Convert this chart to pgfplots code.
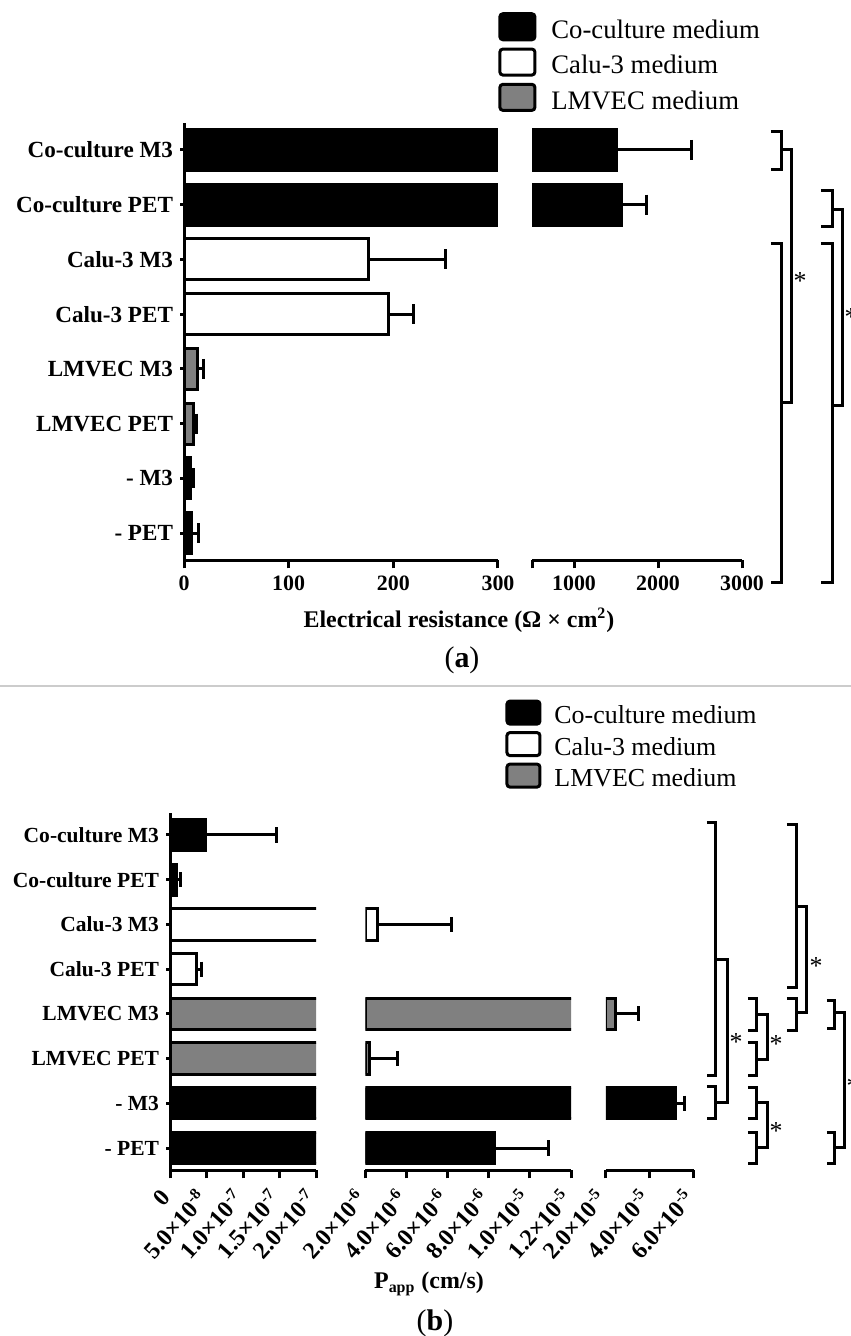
\documentclass[border=0pt]{standalone}
\usepackage{fontspec}
\setmainfont{Liberation Serif}
\usepackage{pgfplots}
\usepackage{pgfplotstable}
\pgfplotsset{compat=1.18}

% (a) electrical resistance, Ohm x cm^2 (y: 7 = Co-culture M3 ... 0 = - PET)
\pgfplotstableread{
y x err
7 1500 900
6 1570 290
}\teerCo
\pgfplotstableread{
y x err
5 176 74
4 195 24
}\teerCalu
\pgfplotstableread{
y x err
3 12.7 6
2 9 2.5
}\teerLm
\pgfplotstableread{
y x err
1 6 3
0 7.4 6
}\teerNone

% (b) Papp, cm/s
\pgfplotstableread{
y x err
7 4.8e-8 9.8e-8
6 0.91e-8 0.46e-8
}\papCo
\pgfplotstableread{
y x err
5 2.57e-6 3.63e-6
4 3.6e-8 0.7e-8
}\papCalu
\pgfplotstableread{
y x err
3 2.42e-5 1.06e-5
2 2.22e-6 1.33e-6
}\papLm
\pgfplotstableread{
y x err
1 5.18e-5 0.41e-5
0 8.29e-6 2.6e-6
}\papNone

\tikzset{
  co/.style={draw=black, fill=black, line width=1.5bp},
  calu/.style={draw=black, fill=white, line width=1.5bp},
  lm/.style={draw=black, fill=black!50, line width=1.5bp},
}
\pgfplotsset{
  brk/.style={
    scale only axis, anchor=south west,
    xbar, bar shift=0pt,
    ymin=-0.5, ymax=7.5,
    axis x line=bottom,
    axis line style={-, line width=1.5bp},
    every tick/.style={black, line width=1.5bp},
    major tick length=4bp, tick align=outside,
    scaled x ticks=false,
    clip marker paths=true,
    error bars/x dir=plus, error bars/x explicit,
    error bars/error mark=|,
    error bars/error bar style={line width=1.5bp, black},
    error bars/error mark options={line width=1.5bp, mark size=5bp, black},
  },
  brkb/.style={
    brk, bar width=0.7,
    error bars/error mark options={line width=1.5bp, mark size=3.8bp, black},
    xticklabel style={font=\bfseries\fontsize{12}{13}\selectfont, yshift=-5bp, rotate=48, anchor=east},
  },
  firstseg/.style={
    axis y line=left, axis line style={-, line width=1.5bp},
    ytick={0,...,7},
    yticklabels={- PET, - M3, LMVEC PET, LMVEC M3, Calu-3 PET, Calu-3 M3, Co-culture PET, Co-culture M3},
    legend cell align=left,
  },
}
\newcommand{\sqbr}[4]{\draw (#1,#3) -- (#2,#3) -- (#2,#4) -- (#1,#4);}
\newcommand{\sigstar}[2]{\node[font=\fontsize{13}{13}\selectfont, inner sep=0pt] at (#1,#2) {*};}

\begin{document}
\begin{tikzpicture}
\useasboundingbox (0,0) rectangle (425.5bp,-668bp);

% ---------- panel (a) ----------
\begin{axis}[brk, firstseg, at={(92bp,-280.2bp)}, width=157bp, height=218.9bp,
  xmin=0, xmax=300, xtick={0,100,200,300}, xticklabels={0,100,200,300},
  bar width=0.75,
  xticklabel style={font=\bfseries\fontsize{11}{13}\selectfont},
  yticklabel style={font=\bfseries\fontsize{11.6}{13}\selectfont},
  legend image code/.code={\draw[#1, rounded corners=1.5bp] (0bp,-3.5bp) rectangle (17.5bp,9.5bp);},
  legend style={at={(1.0,1.253)}, anchor=north west, draw=none, fill=none, inner sep=0pt,
    font=\fontsize{13.4}{15}\selectfont, row sep=0pt,
    /tikz/every odd column/.append style={column sep=7.5bp},
    nodes={inner sep=0pt, text height=10.3bp, text depth=4.5bp}}]
\addplot[co] table[x=x, y=y, x error=err] {\teerCo};
\addlegendentry{Co-culture medium}
\addplot[calu] table[x=x, y=y, x error=err] {\teerCalu};
\addlegendentry{Calu-3 medium}
\addplot[lm] table[x=x, y=y, x error=err] {\teerLm};
\addlegendentry{LMVEC medium}
\addplot[co, forget plot] table[x=x, y=y, x error=err] {\teerNone};
\end{axis}

\begin{axis}[brk, at={(266bp,-280.2bp)}, width=105bp, height=218.9bp,
  axis y line=none,
  xmin=500, xmax=3000, xtick={500,1000,2000,3000}, xticklabels={,1000,2000,3000},
  restrict x to domain=500:100000,
  bar width=0.75,
  xticklabel style={font=\bfseries\fontsize{11}{13}\selectfont}]
\addplot[co] table[x=x, y=y, x error=err] {\teerCo};
\addplot[calu] table[x=x, y=y, x error=err] {\teerCalu};
\addplot[lm] table[x=x, y=y, x error=err] {\teerLm};
\addplot[co] table[x=x, y=y, x error=err] {\teerNone};
\end{axis}

% ---------- panel (b) ----------
\begin{axis}[brkb, firstseg, at={(85bp,-585.2bp)}, width=73bp, height=178.9bp,
  xmin=0, xmax=2e-7, xtick={0,5e-8,1e-7,1.5e-7,2e-7},
  restrict x to domain*=0:3e-7,
  xticklabels={0, 5.0×10\textsuperscript{-8}, 1.0×10\textsuperscript{-7}, 1.5×10\textsuperscript{-7}, 2.0×10\textsuperscript{-7}},
  yticklabel style={font=\bfseries\fontsize{10.8}{13}\selectfont},
  legend image code/.code={\draw[#1, rounded corners=1.5bp] (0bp,-3bp) rectangle (16.5bp,8.5bp);},
  legend style={at={(2.295,1.317)}, anchor=north west, draw=none, fill=none, inner sep=0pt,
    font=\fontsize{13}{15}\selectfont, row sep=0pt,
    /tikz/every odd column/.append style={column sep=6.5bp},
    nodes={inner sep=0pt, text height=9.4bp, text depth=3.6bp}}]
\addplot[co] table[x=x, y=y, x error=err] {\papCo};
\addlegendentry{Co-culture medium}
\addplot[calu] table[x=x, y=y, x error=err] {\papCalu};
\addlegendentry{Calu-3 medium}
\addplot[lm] table[x=x, y=y, x error=err] {\papLm};
\addlegendentry{LMVEC medium}
\addplot[co, forget plot] table[x=x, y=y, x error=err] {\papNone};
\end{axis}

\begin{axis}[brkb, at={(182.7bp,-585.2bp)}, width=102.8bp, height=178.9bp,
  axis y line=none,
  xmin=2e-6, xmax=1.2e-5, xtick={2e-6,4e-6,6e-6,8e-6,1e-5,1.2e-5},
  restrict x to domain=2e-6:1,
  xticklabels={2.0×10\textsuperscript{-6}, 4.0×10\textsuperscript{-6}, 6.0×10\textsuperscript{-6}, 8.0×10\textsuperscript{-6}, 1.0×10\textsuperscript{-5}, 1.2×10\textsuperscript{-5}}]
\addplot[co] table[x=x, y=y, x error=err] {\papCo};
\addplot[calu] table[x=x, y=y, x error=err] {\papCalu};
\addplot[lm] table[x=x, y=y, x error=err] {\papLm};
\addplot[co] table[x=x, y=y, x error=err] {\papNone};
\end{axis}

\begin{axis}[brkb, at={(302.9bp,-585.2bp)}, width=44bp, height=178.9bp,
  axis y line=none,
  xmin=2e-5, xmax=6e-5, xtick={2e-5,4e-5,6e-5},
  restrict x to domain=2e-5:1,
  xticklabels={2.0×10\textsuperscript{-5}, 4.0×10\textsuperscript{-5}, 6.0×10\textsuperscript{-5}}]
\addplot[co] table[x=x, y=y, x error=err] {\papCo};
\addplot[calu] table[x=x, y=y, x error=err] {\papCalu};
\addplot[lm] table[x=x, y=y, x error=err] {\papLm};
\addplot[co] table[x=x, y=y, x error=err] {\papNone};
\end{axis}

% ---------- labels, divider, significance brackets (pixel units) ----------
\begin{scope}[x=0.5bp, y=-0.5bp, line width=1.5bp]
\node[font=\bfseries\fontsize{12}{14}\selectfont] at (459,620) {Electrical resistance (Ω × cm\textsuperscript{2})};
\node[font=\fontsize{15}{17}\selectfont] at (462,660) {(\textbf{a})};
\draw[black!20, line width=0.6bp] (0,686) -- (851,686);
\node[font=\bfseries\fontsize{12}{14}\selectfont] at (429,1284) {P\textsubscript{app} (cm/s)};
\node[font=\fontsize{15}{17}\selectfont] at (435,1323) {(\textbf{b})};

% (a)
\sqbr{771}{782}{132}{170}
\sqbr{782}{792}{150}{403}
\sqbr{771}{782}{244}{583}
\sigstar{800}{281}
\sqbr{821}{833}{191}{227}
\sqbr{833}{843}{210}{406}
\sqbr{821}{833}{244}{583}
\sigstar{851}{317}

% (b)
\sqbr{707}{716}{823}{1076}
\sqbr{716}{728}{960}{1103}
\sqbr{707}{716}{1087}{1119}
\sigstar{736}{1042}
\sqbr{748}{757}{999}{1031}
\sqbr{748}{757}{1043}{1076}
\sqbr{757}{768}{1015}{1060}
\sigstar{776}{1044}
\sqbr{748}{757}{1088}{1119}
\sqbr{748}{757}{1133}{1164}
\sqbr{757}{768}{1103}{1148}
\sigstar{776}{1131}
\sqbr{787}{797}{825}{988}
\sqbr{797}{807}{907}{1013}
\sqbr{787}{797}{999}{1031}
\sigstar{816}{966}
\sqbr{827}{835}{1001}{1029}
\sqbr{835}{845}{1013}{1148}
\sqbr{827}{835}{1133}{1164}
\sigstar{853}{1086}
\end{scope}
\end{tikzpicture}
\end{document}
